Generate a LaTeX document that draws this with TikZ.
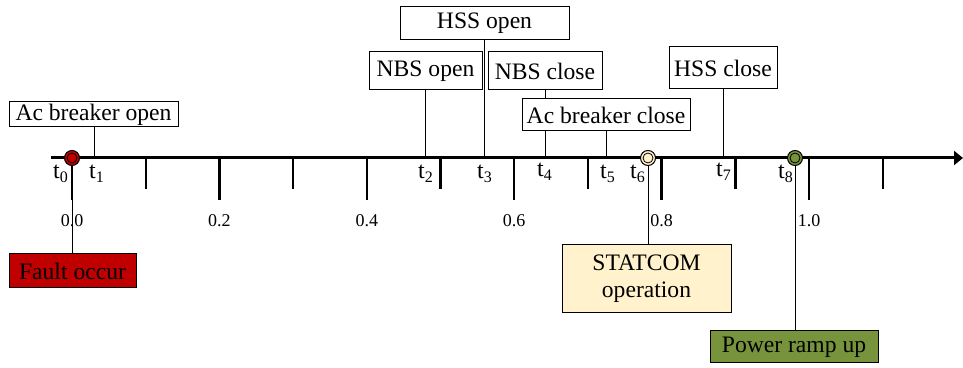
\documentclass[tikz,border=0pt]{standalone}
\usepackage{fontspec}
\setmainfont{Liberation Serif}
\usetikzlibrary{arrows.meta}

\definecolor{faultred}{HTML}{C00000}
\definecolor{statyellow}{HTML}{FFF2CC}
\definecolor{rampgreen}{HTML}{77933C}

\begin{document}
\begin{tikzpicture} [
    x=0.5pt, y=-0.5pt,
    event/.style = {draw, line width=0.5pt, fill=white, inner sep=0pt, font=\fontsize{11.8}{13.5}\selectfont},
    tlabel/.style = {inner sep=0pt, font=\fontsize{12}{14}\selectfont},
    num/.style = {inner sep=0pt, font=\fontsize{9}{11}\selectfont},
    link/.style = {line width=0.5pt},
    tickmajor/.style = {line width=1.2pt},
    dotring/.style = {draw, circle, line width=0.5pt, minimum size=7.5pt, inner sep=0pt}
    ]
    \useasboundingbox (0,0) rectangle (963,368);

    % time instants on the axis
    \coordinate (t0) at (72,158);
    \coordinate (t1) at (94,158);
    \coordinate (t2) at (425,158);
    \coordinate (t3) at (484,158);
    \coordinate (t4) at (545,158);
    \coordinate (t5) at (606,158);
    \coordinate (t6) at (648,158);
    \coordinate (t7) at (723,158);
    \coordinate (t8) at (795,158);
    \coordinate (axisstart) at (51,158);
    \coordinate (axisend) at (963,158);

    % axis and ticks
    \draw[line width=1.5pt, -{Triangle[length=4.5pt,width=7pt]}] (axisstart) -- (axisend);
    \foreach \i in {0,...,5} {
      \draw[tickmajor] (72+147.4*\i,158) -- ++(0,42);
      \draw[tickmajor] (145.7+147.4*\i,158) -- ++(0,31);
    }
    \foreach \v [count=\i from 0] in {0.0,0.2,0.4,0.6,0.8,1.0}
      \node[num] (num\i) at (72+147.4*\i,221) {\v};

    % events
    \node[event, minimum width=84.5pt, minimum height=12.5pt] (acopen) at (93.5,114.5) {Ac breaker open};
    \node[event, minimum width=56.5pt, minimum height=19pt] (nbsopen) at (425.5,71) {NBS open};
    \node[event, minimum width=84.5pt, minimum height=16.5pt] (hssopen) at (484.5,23.5) {HSS open};
    \node[event, minimum width=57pt, minimum height=19pt] (nbsclose) at (545,71) {NBS close};
    \node[event, minimum width=84pt, minimum height=16pt] (acclose) at (606,115) {Ac breaker close};
    \node[event, minimum width=54pt, minimum height=21pt] (hssclose) at (723,68) {HSS close};
    \node[event, fill=faultred, minimum width=63.5pt, minimum height=17pt] (fault) at (72.5,271) {Fault occur};
    \node[event, fill=statyellow, minimum width=84.5pt, minimum height=34pt, align=center] (statcom) at (646.5,279) {STATCOM\\operation};
    \node[event, fill=rampgreen, minimum width=84pt, minimum height=16pt] (ramp) at (794,347) {Power ramp up};

    % links
    \draw[link] (acopen.south -| t1) -- (t1);
    \draw[link] (nbsopen.south -| t2) -- (t2);
    \draw[link] (hssopen.south -| t3) -- (t3);
    \draw[link] (nbsclose.south -| t4) -- (acclose.north -| t4);
    \draw[link] (acclose.south -| t4) -- (t4);
    \draw[link] (acclose.south -| t5) -- (t5);
    \draw[link] (hssclose.south -| t7) -- (t7);
    \draw[link] (t0) -- (fault.north -| t0);
    \draw[link] (t6) -- (statcom.north -| t6);
    \draw[link] (t8) -- (ramp.north -| t8);

    % markers
    \node[dotring, fill=faultred] (dot0) at (t0) {};
    \node[dotring, fill=statyellow] (dot6) at (t6) {};
    \node[dotring, fill=rampgreen] (dot8) at (t8) {};
    \foreach \d in {dot0,dot6,dot8}
      \draw[line width=0.4pt] (\d) circle[radius=5];

    % time labels
    \node[tlabel] (lab0) at (61,174) {t\textsubscript{0}};
    \node[tlabel] (lab1) at (97,174) {t\textsubscript{1}};
    \node[tlabel] (lab2) at (426,174) {t\textsubscript{2}};
    \node[tlabel] (lab3) at (485,174) {t\textsubscript{3}};
    \node[tlabel] (lab4) at (545,172) {t\textsubscript{4}};
    \node[tlabel] (lab5) at (608,174) {t\textsubscript{5}};
    \node[tlabel] (lab6) at (638,174) {t\textsubscript{6}};
    \node[tlabel] (lab7) at (724,172) {t\textsubscript{7}};
    \node[tlabel] (lab8) at (786,174) {t\textsubscript{8}};
\end{tikzpicture}
\end{document}
